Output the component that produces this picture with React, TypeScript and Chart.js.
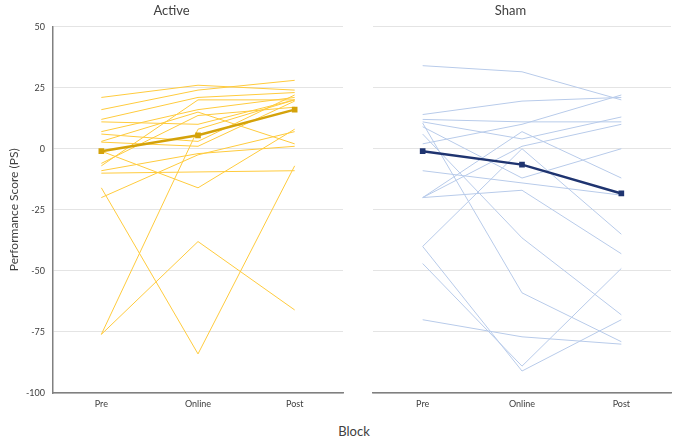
import React, { useEffect, useRef } from "react";
import { Chart, registerables } from "chart.js";

Chart.register(...registerables);

const categories = ["Pre", "Online", "Post"];
const yTicks = [-100, -75, -50, -25, 0, 25, 50];

// Active group: individual subjects [Pre, Online, Post]
const activeSubjects: number[][] = [
  [21, 26, 24],
  [16, 24, 28],
  [12, 21, 23],
  [11, 10, 20],
  [7, 16, 21],
  [6, 3, 22],
  [3, 15, 2],
  [2.7, 1, 19.5],
  [-1, -16, 8],
  [-6, 13.6, 17],
  [-7, 20, 20],
  [-9, -2, 1],
  [-10, -9.5, -9],
  [-16, -84, -7],
  [-20, -2.5, 7],
  [-76, 8, 20],
  [-76, -38, -66],
];
const activeMean = [-1, 5.5, 16];

// Sham group: individual subjects [Pre, Online, Post]
const shamSubjects: number[][] = [
  [34, 31.5, 20],
  [14, 19.5, 21],
  [12, 11, 11],
  [11, 4, 13],
  [10.5, -59, -79],
  [9, -12, 0],
  [6, -36.5, -68],
  [2, 10, 22],
  [-9, -14, -19],
  [-20, 7, -12],
  [-20, -17, -43],
  [-20, 1, 10],
  [-40, 0, -35],
  [-40, -91, -70],
  [-47, -89, -49],
  [-70, -77, -80],
];
const shamMean = [-1, -6.5, -18.3];

const FONT = "Lato, 'Open Sans', sans-serif";

function Panel(props: {
  title: string;
  subjects: number[][];
  mean: number[];
  lineColor: string;
  meanColor: string;
  showYAxis: boolean;
  width: number;
  left: number;
}) {
  const ref = useRef<HTMLCanvasElement>(null);
  useEffect(() => {
    if (!ref.current) return;
    const { subjects, mean, lineColor, meanColor, showYAxis } = props;
    const datasets: any[] = [
      {
        data: mean,
        borderColor: meanColor,
        backgroundColor: meanColor,
        borderWidth: 2.5,
        pointStyle: "rect",
        pointRadius: 4,
        pointBorderWidth: 0,
      },
      ...subjects.map((s) => ({
        data: s,
        borderColor: lineColor,
        borderWidth: 1,
        pointRadius: 0,
      })),
    ];
    const chart = new Chart(ref.current, {
      type: "line",
      data: { labels: categories, datasets },
      options: {
        responsive: false,
        animation: false,
        devicePixelRatio: 1,
        layout: { padding: { right: 7, top: 0, bottom: 0, left: 0 } },
        plugins: {
          legend: { display: false },
          tooltip: { enabled: false },
          title: {
            display: true,
            text: props.title,
            color: "#404040",
            font: { family: FONT, size: 13, weight: "normal" as any },
            padding: { top: 3, bottom: 8 },
          },
        },
        scales: {
          x: {
            type: "category",
            offset: true,
            grid: { display: false, drawTicks: false },
            border: { display: true, color: "#808080", width: 1.5 },
            ticks: {
              color: "#404040",
              font: { family: FONT, size: 9 },
              padding: 6,
            },
            afterFit: (s: any) => {
              s.height = 22;
            },
          },
          y: {
            min: -100,
            max: 50,
            afterBuildTicks: (s: any) => {
              s.ticks = yTicks.map((v) => ({ value: v }));
            },
            grid: { color: "#e4e4e4", lineWidth: 1, drawTicks: false },
            border: { display: showYAxis, color: "#808080", width: 1.5 },
            ticks: {
              display: showYAxis,
              color: "#404040",
              font: { family: FONT, size: 9 },
              padding: 8,
            },
            title: {
              display: showYAxis,
              text: "Performance Score (PS)",
              color: "#404040",
              font: { family: FONT, size: 12 },
              padding: { top: 7, bottom: 0 },
            },
            afterFit: (s: any) => {
              s.width = showYAxis ? 53 : 23;
            },
          },
        },
      },
    });
    return () => chart.destroy();
  }, []);
  return (
    <canvas
      ref={ref}
      width={props.width}
      height={415}
      style={{
        position: "absolute",
        left: props.left,
        top: 0,
        width: props.width,
        height: 415,
        display: "block",
      }}
    />
  );
}

export default function App() {
  return (
    <div
      style={{
        position: "fixed",
        left: 0,
        top: 0,
        width: 678,
        height: 440,
        background: "#ffffff",
        overflow: "hidden",
      }}
    >
      <Panel
        title="Active"
        subjects={activeSubjects}
        mean={activeMean}
        lineColor="#FFCB3D"
        meanColor="#D4A20A"
        showYAxis={true}
        width={350}
        left={0}
      />
      <Panel
        title="Sham"
        subjects={shamSubjects}
        mean={shamMean}
        lineColor="#B8CBEA"
        meanColor="#1F3470"
        showYAxis={false}
        width={328}
        left={350}
      />
      <div
        style={{
          position: "absolute",
          left: 0,
          width: 708,
          top: 423,
          textAlign: "center",
          fontFamily: FONT,
          fontSize: 13,
          color: "#404040",
        }}
      >
        Block
      </div>
    </div>
  );
}
